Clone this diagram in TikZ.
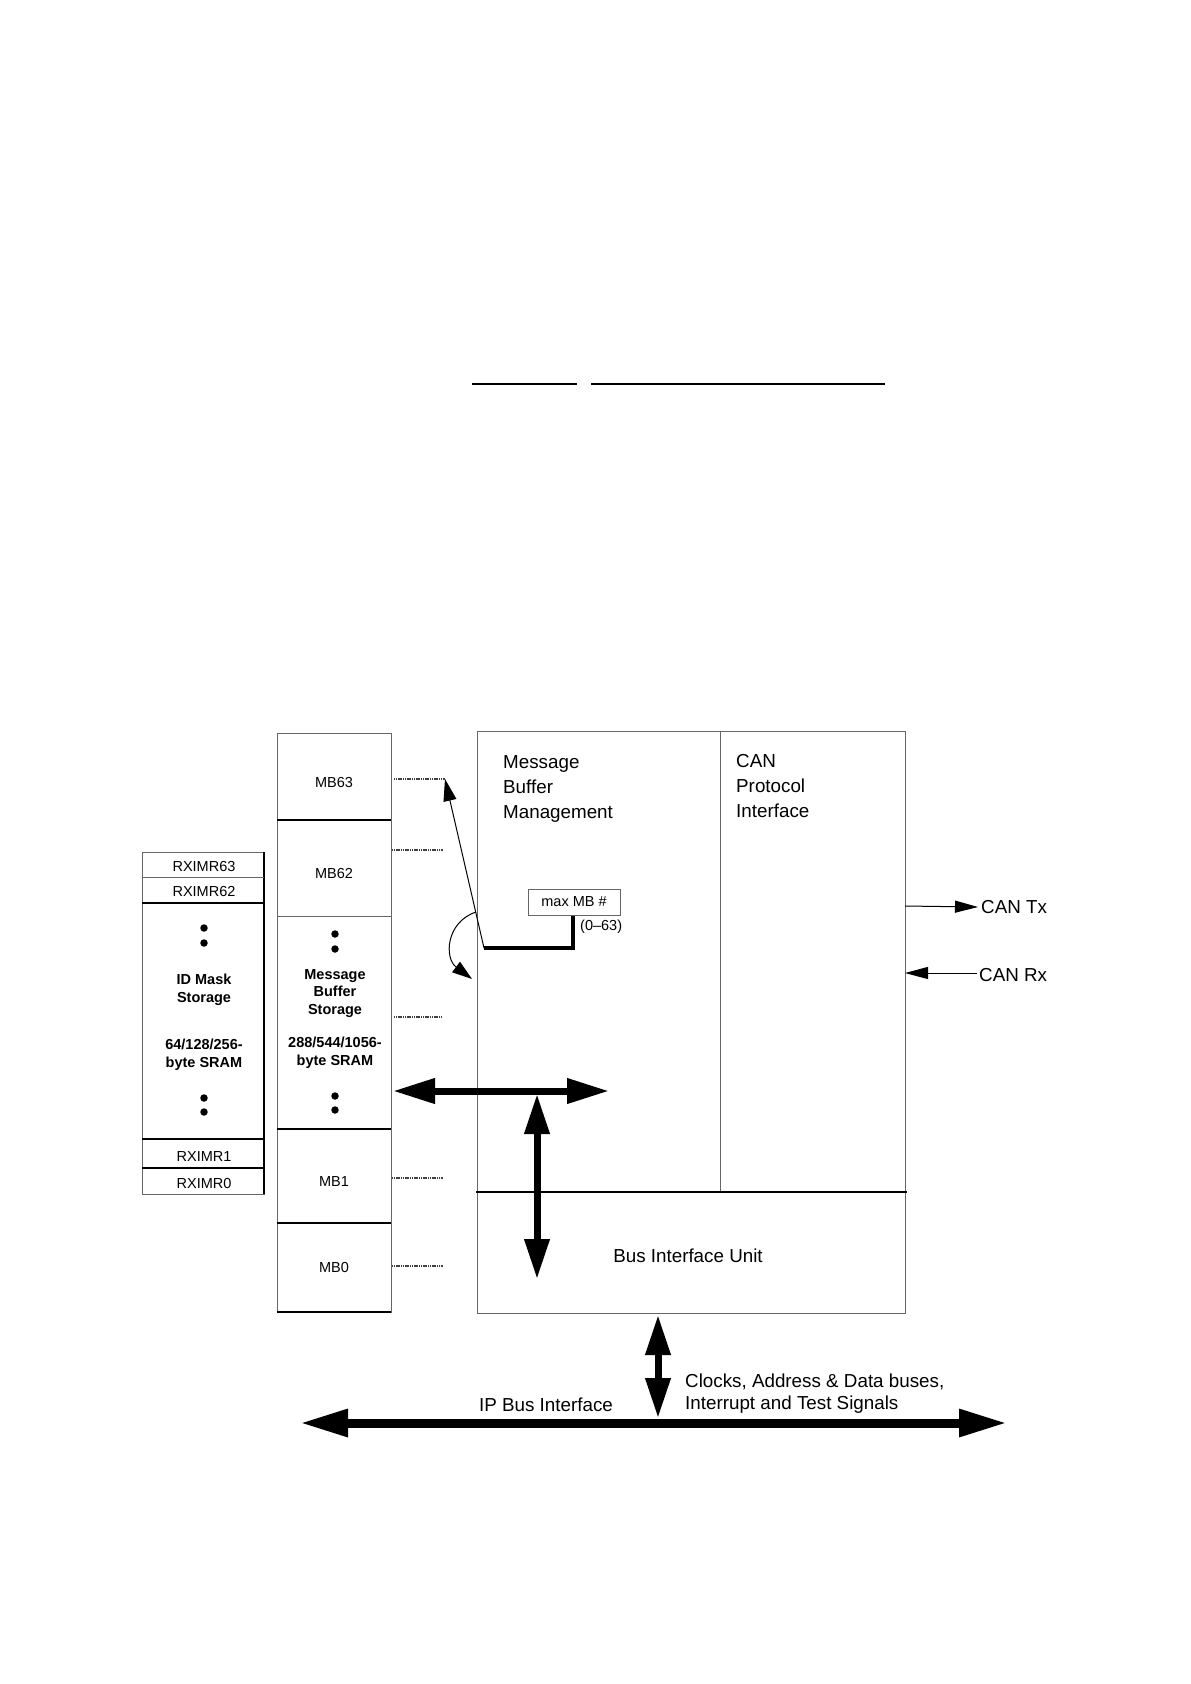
\documentclass[tikz,border=0pt]{standalone}
\usepackage{fontspec}
\setmainfont{Liberation Sans}
\usetikzlibrary{arrows.meta}
\begin{document}
\begin{tikzpicture}[x=1pt,y=-1pt,
  outl/.style={draw=black!60, line width=1pt},
  sepl/.style={draw=black, line width=1.3pt},
  bigtxt/.style={font=\fontsize{18.8}{25}\selectfont, align=left, inner sep=0pt},
  smtxt/.style={font=\fontsize{14.5}{17.5}\selectfont, inner sep=0pt},
  boldtxt/.style={font=\fontsize{14.5}{18}\selectfont\bfseries, align=center, inner sep=0pt},
  dotline/.style={draw=black!75, line width=2.6pt, dash pattern=on 1.2pt off 0.6pt},
  dotmark/.style={circle, fill=black, inner sep=0pt, minimum size=7.5pt},
  busarrow/.style={line width=7pt, {Triangle[length=42pt,width=24pt]}-{Triangle[length=42pt,width=24pt]}},
  ipbus/.style={line width=9pt, {Triangle[length=48pt,width=26pt]}-{Triangle[length=48pt,width=26pt]}},
  thinarrow/.style={line width=1pt, -{Triangle[length=23pt,width=12pt]}}
]
\useasboundingbox (0,0) rectangle (1191,1684);

% header rules
\draw[line width=1.5pt] (472,384) coordinate (h1a) -- (577,384) coordinate (h1b);
\draw[line width=1.5pt] (591,384) coordinate (h2a) -- (885,384) coordinate (h2b);

% ---------- RXIMR column ----------
\draw[outl] (142,852) rectangle (264,1194);
\draw[draw=black, line width=1.2pt] (264,852) -- (264,1194);
\draw[outl] (142,877) -- (264,877);
\draw[sepl] (142,903) -- (264,903);
\draw[sepl] (142,1139) -- (264,1139);
\draw[sepl] (142,1168) -- (264,1168);
\node[smtxt] (rx63) at (204,866) {RXIMR63};
\node[smtxt] (rx62) at (204,891) {RXIMR62};
\node[smtxt] (rx1) at (204,1156) {RXIMR1};
\node[smtxt] (rx0) at (204,1183) {RXIMR0};
\node[dotmark] (idd1) at (204,928) {};
\node[dotmark] (idd2) at (204,943) {};
\node[boldtxt] (idm) at (204,989.5) {ID Mask\\Storage};
\node[boldtxt] (idsr) at (204,1054.5) {64/128/256-\\byte SRAM};
\node[dotmark] (idd3) at (204,1098) {};
\node[dotmark] (idd4) at (204,1112) {};

% ---------- MB column ----------
\draw[outl] (277,733) rectangle (391,1312);
\draw[sepl] (277,820) -- (391,820);
\draw[outl] (277,916) -- (391,916);
\draw[sepl] (277,1129) -- (391,1129);
\draw[sepl] (277,1223) -- (391,1223);
\draw[sepl] (277,1312) -- (391,1312);
\node[smtxt] (mb63) at (334,782) {MB63};
\node[smtxt] (mb62) at (334,873) {MB62};
\node[smtxt] (mb1) at (334,1181) {MB1};
\node[smtxt] (mb0) at (334,1267) {MB0};
\node[dotmark] (mbd1) at (335,934) {};
\node[dotmark] (mbd2) at (335,949) {};
\node[boldtxt, font=\fontsize{14.5}{17.5}\selectfont\bfseries] (mbs) at (335,993.5) {Message\\Buffer\\Storage};
\node[boldtxt] (mbsr) at (335,1052.5) {288/544/1056-\\byte SRAM};
\node[dotmark] (mbd3) at (335,1096) {};
\node[dotmark] (mbd4) at (335,1110) {};

% dotted links
\draw[dotline] (394,779) coordinate (d63a) -- (445,779) coordinate (d63b);
\draw[dotline] (392,850) coordinate (d62a) -- (443,850) coordinate (d62b);
\draw[dotline] (394,1017) coordinate (dsa) -- (442,1017) coordinate (dsb);
\draw[dotline] (392,1178) coordinate (d1a) -- (443,1178) coordinate (d1b);
\draw[dotline] (392,1266) coordinate (d0a) -- (443,1266) coordinate (d0b);

% ---------- main block ----------
\draw[outl] (477,731) rectangle (905,1313);
\draw[outl] (720,731) -- (720,1192);
\draw[draw=black, line width=2.2pt] (476,1192) -- (907,1192);
\node[bigtxt, anchor=west] (mbm) at (503,789) {Message\\Buffer\\Management};
\node[bigtxt, anchor=west] (cpi) at (736,786) {CAN\\Protocol\\Interface};
\node[bigtxt] (biu) at (688,1256) {Bus Interface Unit};

% max MB box
\node[outl, minimum width=92pt, minimum height=26pt, inner sep=0pt,
      font=\fontsize{14.5}{17}\selectfont] (maxmb) at (574,902) {max MB \#};
\node[smtxt, anchor=west] (rng) at (580,927) {(0–63)};
\coordinate (bend) at (484,948);
\coordinate (lcorner) at (573,948);
\draw[line width=3.5pt, line join=miter] (maxmb.south -| lcorner) -- (lcorner) -- (bend);
\draw[line width=1pt, -{Triangle[length=22pt,width=13pt]}] (bend) -- (d63b);
\coordinate (cstart) at (476,912);
\coordinate (cend) at (472,979);
\draw[line width=1pt, -{Triangle[length=20pt,width=13pt]}] (cstart) .. controls (446,922) and (444,958) .. (cend);

% internal buses
\coordinate (hl) at (393,1091);
\coordinate (hr) at (609,1091);
\coordinate (vt) at (537,1094);
\coordinate (vb) at (537,1279);
\draw[busarrow] (hl) -- (hr);
\draw[busarrow, {Triangle[length=40pt,width=24pt]}-{Triangle[length=40pt,width=24pt]}] (vt) -- (vb);

% CAN Tx / Rx
\node[bigtxt, anchor=west] (cantx) at (981,907) {CAN Tx};
\node[bigtxt, anchor=west] (canrx) at (979,975) {CAN Rx};
\coordinate (txs) at (905,906);
\coordinate (rxe) at (905,973);
\draw[thinarrow] (txs) -- ([xshift=-3pt]cantx.west);
\draw[thinarrow] ([xshift=-2pt]canrx.west |- rxe) -- (rxe);

% IP bus
\coordinate (ipl) at (300,1423);
\coordinate (ipr) at (1007,1423);
\coordinate (ipm) at (658,1418);
\coordinate (biub) at (658,1315);
\draw[ipbus] (ipl) -- (ipr);
\draw[busarrow, {Triangle[length=40pt,width=24pt]}-{Triangle[length=40pt,width=24pt]}] (biub) -- (ipm);
\node[bigtxt] (ipbi) at (546,1405) {IP Bus Interface};
\node[bigtxt, anchor=west, font=\fontsize{18.8}{21.5}\selectfont] (clk) at (685,1393.5) {Clocks, Address \& Data buses,\\Interrupt and Test Signals};
\end{tikzpicture}
\end{document}
